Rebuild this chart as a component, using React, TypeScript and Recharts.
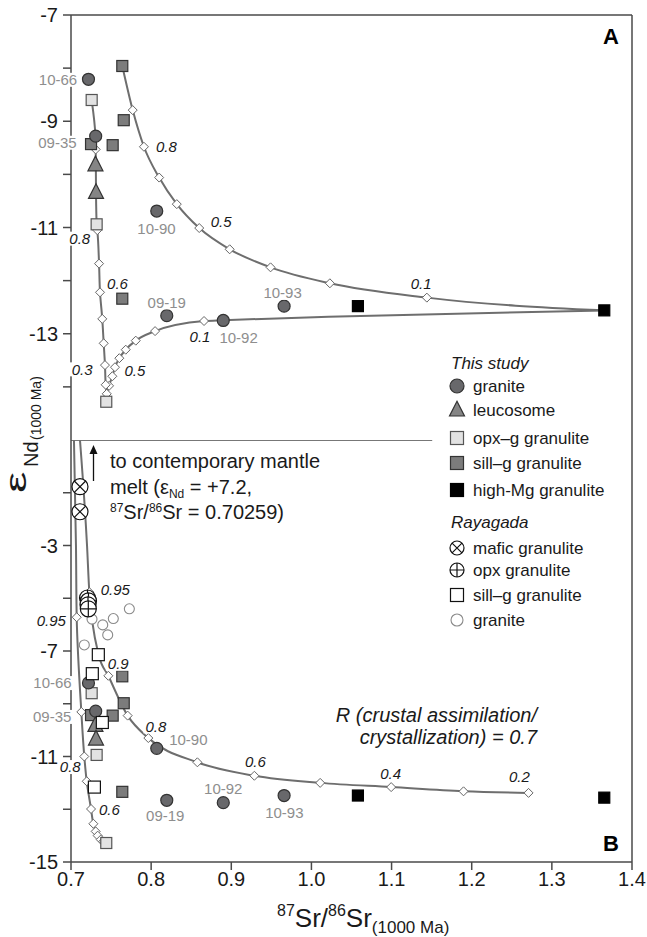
import React from "react";
import {
  ComposedChart,
  XAxis,
  YAxis,
  Line,
  Scatter,
  ReferenceLine,
  ReferenceDot,
} from "recharts";

type Pt = { x: number; y: number };
type Tag = { x: number; y: number; text: string };

// ---------------------------------------------------------------------------
// This study (same samples plotted in both panels)
// ---------------------------------------------------------------------------
const granite: Pt[] = [
  { x: 0.7218, y: -8.21 }, // 10-66
  { x: 0.7308, y: -9.28 }, // 09-35
  { x: 0.807, y: -10.69 }, // 10-90
  { x: 0.8195, y: -12.66 }, // 09-19
  { x: 0.89, y: -12.75 }, // 10-92
  { x: 0.9659, y: -12.48 }, // 10-93
];
const leucosome: Pt[] = [
  { x: 0.7305, y: -9.82 },
  { x: 0.7312, y: -10.34 },
];
const opxG: Pt[] = [
  { x: 0.7258, y: -8.6 },
  { x: 0.732, y: -10.94 },
  { x: 0.744, y: -14.28 },
];
const sillG: Pt[] = [
  { x: 0.764, y: -7.96 },
  { x: 0.7658, y: -8.98 },
  { x: 0.725, y: -9.43 },
  { x: 0.752, y: -9.45 },
  { x: 0.764, y: -12.34 },
];
const highMg: Pt[] = [
  { x: 1.058, y: -12.48 },
  { x: 1.3654, y: -12.56 },
];

// ---------------------------------------------------------------------------
// Rayagada (panel B)
// ---------------------------------------------------------------------------
const maficR: Pt[] = [
  { x: 0.7112, y: -0.77 },
  { x: 0.7112, y: -1.72 },
];
const opxR: Pt[] = [
  { x: 0.7206, y: -4.99 },
  { x: 0.7218, y: -5.1 },
  { x: 0.7212, y: -5.25 },
  { x: 0.7216, y: -5.4 },
];
const sillR: Pt[] = [
  { x: 0.7341, y: -7.14 },
  { x: 0.7266, y: -7.86 },
  { x: 0.7391, y: -9.71 },
  { x: 0.7292, y: -12.16 },
];
const graniteR: Pt[] = [
  { x: 0.7728, y: -5.4 },
  { x: 0.7528, y: -5.77 },
  { x: 0.7396, y: -6.01 },
  { x: 0.7458, y: -6.39 },
  { x: 0.7262, y: -5.79 },
  { x: 0.7166, y: -6.77 },
];

// ---------------------------------------------------------------------------
// Mixing / AFC curves and their step marks
// ---------------------------------------------------------------------------
const curveA1: Pt[] = [
  { x: 0.764, y: -7.96 },
  { x: 0.777, y: -8.79 },
  { x: 0.791, y: -9.48 },
  { x: 0.81, y: -10.06 },
  { x: 0.832, y: -10.56 },
  { x: 0.86, y: -11.01 },
  { x: 0.898, y: -11.41 },
  { x: 0.949, y: -11.75 },
  { x: 1.023, y: -12.05 },
  { x: 1.144, y: -12.32 },
  { x: 1.3654, y: -12.56 },
];
const stepsA1: Pt[] = curveA1.slice(1, -1);

const curveA2: Pt[] = [
  { x: 0.7446, y: -14.13 },
  { x: 0.7475, y: -13.98 },
  { x: 0.7516, y: -13.8 },
  { x: 0.7549, y: -13.63 },
  { x: 0.7603, y: -13.46 },
  { x: 0.7683, y: -13.3 },
  { x: 0.7808, y: -13.13 },
  { x: 0.8049, y: -12.95 },
  { x: 0.866, y: -12.76 },
  { x: 0.89, y: -12.745 },
  { x: 1.0213, y: -12.68 },
  { x: 1.3654, y: -12.56 },
];
const stepsA2: Pt[] = curveA2.slice(0, 9);

const curveA3: Pt[] = [
  { x: 0.7258, y: -8.6 },
  { x: 0.7305, y: -9.28 },
  { x: 0.7308, y: -9.53 },
  { x: 0.731, y: -9.82 },
  { x: 0.7312, y: -10.34 },
  { x: 0.732, y: -10.94 },
  { x: 0.7328, y: -11.05 },
  { x: 0.735, y: -11.68 },
  { x: 0.7362, y: -12.22 },
  { x: 0.739, y: -12.72 },
  { x: 0.7408, y: -13.18 },
  { x: 0.7424, y: -13.59 },
  { x: 0.7433, y: -13.96 },
  { x: 0.7446, y: -14.13 },
];
const stepsA3: Pt[] = [
  { x: 0.7308, y: -9.53 },
  { x: 0.7328, y: -11.05 },
  { x: 0.735, y: -11.68 },
  { x: 0.7362, y: -12.22 },
  { x: 0.739, y: -12.72 },
  { x: 0.7408, y: -13.18 },
  { x: 0.7424, y: -13.59 },
  { x: 0.7433, y: -13.96 },
];

const curveB1: Pt[] = [
  { x: 0.7037, y: 1 },
  { x: 0.7062, y: -3 },
  { x: 0.7071, y: -5.72 },
  { x: 0.7129, y: -9.31 },
  { x: 0.7166, y: -11.0 },
  { x: 0.7196, y: -11.94 },
  { x: 0.725, y: -12.99 },
  { x: 0.7279, y: -13.55 },
  { x: 0.7308, y: -13.84 },
  { x: 0.7333, y: -14.0 },
  { x: 0.7371, y: -14.15 },
  { x: 0.7403, y: -14.22 },
  { x: 0.7446, y: -14.26 },
];
const stepsB1: Pt[] = curveB1.slice(2, -1);

const curveB2: Pt[] = [
  { x: 0.7112, y: 1 },
  { x: 0.72, y: -3 },
  { x: 0.7229, y: -4.77 },
  { x: 0.7345, y: -7.14 },
  { x: 0.7466, y: -7.94 },
  { x: 0.7707, y: -9.45 },
  { x: 0.7965, y: -10.3 },
  { x: 0.8577, y: -11.22 },
  { x: 0.9288, y: -11.73 },
  { x: 1.0109, y: -12.0 },
  { x: 1.0995, y: -12.16 },
  { x: 1.1898, y: -12.32 },
  { x: 1.2709, y: -12.38 },
];
const stepsB2: Pt[] = [curveB2[2], ...curveB2.slice(4)];

// ---------------------------------------------------------------------------
// Text tags (sample numbers and melt fractions)
// ---------------------------------------------------------------------------
const idsA: Tag[] = [
  { x: 0.6838, y: -8.22, text: "10-66" },
  { x: 0.6831, y: -9.405, text: "09-35" },
  { x: 0.8067, y: -11.03, text: "10-90" },
  { x: 0.8195, y: -12.41, text: "09-19" },
  { x: 0.9091, y: -13.07, text: "10-92" },
  { x: 0.964, y: -12.23, text: "10-93" },
];
const fracA: Tag[] = [
  { x: 0.819, y: -9.48, text: "0.8" },
  { x: 0.8873, y: -10.89, text: "0.5" },
  { x: 1.137, y: -12.05, text: "0.1" },
  { x: 0.7109, y: -11.21, text: "0.8" },
  { x: 0.758, y: -12.05, text: "0.6" },
  { x: 0.714, y: -13.67, text: "0.3" },
  { x: 0.7797, y: -13.69, text: "0.5" },
  { x: 0.861, y: -13.06, text: "0.1" },
];
const idsB: Tag[] = [
  { x: 0.6769, y: -8.216, text: "10-66" },
  { x: 0.6765, y: -9.5, text: "09-35" },
  { x: 0.8464, y: -10.36, text: "10-90" },
  { x: 0.8176, y: -13.24, text: "09-19" },
  { x: 0.89, y: -12.22, text: "10-92" },
  { x: 0.9662, y: -13.12, text: "10-93" },
];
const fracB: Tag[] = [
  { x: 0.7553, y: -4.655, text: "0.95" },
  { x: 0.6754, y: -5.845, text: "0.95" },
  { x: 0.759, y: -7.485, text: "0.9" },
  { x: 0.8059, y: -9.86, text: "0.8" },
  { x: 0.93, y: -11.19, text: "0.6" },
  { x: 1.0989, y: -11.63, text: "0.4" },
  { x: 1.2595, y: -11.75, text: "0.2" },
  { x: 0.6991, y: -11.4, text: "0.8" },
  { x: 0.748, y: -13.02, text: "0.6" },
];

const xTicks = [0.7, 0.8, 0.9, 1.0, 1.1, 1.2, 1.3, 1.4];
const yTicksA = [-14, -13, -12, -11, -10, -9, -8, -7];
const yLabelsA = [-13, -11, -9, -7];
const yTicksB = [-15, -13, -11, -9, -7, -5, -3, -1];
const yLabelsB = [-15, -11, -7, -3];

// ---------------------------------------------------------------------------
// Styling
// ---------------------------------------------------------------------------
const FONT = '"Liberation Sans", Arial, Helvetica, sans-serif';
const INK = "#1a1a1a";
const AXIS = "#4a4a4a";
const CURVE = "#6e6e6e";
const ID_GRAY = "#8e8e8e";

const GRANITE_FILL = "#68686b";
const TRI_FILL = "#858585";
const SILL_FILL = "#7c7c7c";
const OPX_FILL = "#e2e2e2";

// ---------------------------------------------------------------------------
// Marker shapes
// ---------------------------------------------------------------------------
const disc = (r: number, fill: string, stroke: string, sw = 1.2) => (p: any) => (
  <circle cx={p.cx} cy={p.cy} r={r} fill={fill} stroke={stroke} strokeWidth={sw} />
);
const box = (s: number, fill: string, stroke: string) => (p: any) => (
  <rect x={p.cx - s / 2} y={p.cy - s / 2} width={s} height={s} fill={fill} stroke={stroke} strokeWidth={1.2} />
);
const tri = (s: number, fill: string, stroke: string) => (p: any) => (
  <path
    d={`M${p.cx},${p.cy - s * 0.58}L${p.cx + s / 2},${p.cy + s * 0.4}L${p.cx - s / 2},${p.cy + s * 0.4}Z`}
    fill={fill}
    stroke={stroke}
    strokeWidth={1.2}
  />
);
const diamond = (p: any) => (
  <path
    d={`M${p.cx},${p.cy - 4.5}L${p.cx + 4.5},${p.cy}L${p.cx},${p.cy + 4.5}L${p.cx - 4.5},${p.cy}Z`}
    fill="#fff"
    stroke="#666"
    strokeWidth={1}
  />
);
const crossed = (r: number, kind: "x" | "+") => (p: any) => {
  const d = kind === "x" ? r * 0.7071 : r;
  const path =
    kind === "x"
      ? `M${p.cx - d},${p.cy - d}L${p.cx + d},${p.cy + d}M${p.cx + d},${p.cy - d}L${p.cx - d},${p.cy + d}`
      : `M${p.cx - d},${p.cy}L${p.cx + d},${p.cy}M${p.cx},${p.cy - d}L${p.cx},${p.cy + d}`;
  return (
    <g>
      <circle cx={p.cx} cy={p.cy} r={r} fill="#fff" stroke="#111" strokeWidth={1.2} />
      <path d={path} stroke="#111" strokeWidth={1.2} />
    </g>
  );
};

const graniteShape = disc(6, GRANITE_FILL, "#333");
const leucoShape = tri(15, TRI_FILL, "#333");
const opxShape = box(11, OPX_FILL, "#555");
const sillShape = box(11, SILL_FILL, "#333");
const highMgShape = box(11, "#000", "#000");
const maficShape = crossed(8, "x");
const opxRShape = crossed(8, "+");
const sillRShape = box(12, "#fff", "#111");
const graniteRShape = disc(5, "#fff", "#8a8a8a", 1.1);

// rough Arial advance widths, used for the white box behind a tag
function textWidth(s: string): number {
  let w = 0;
  for (const c of s) w += c === "." ? 0.278 : c === "-" ? 0.333 : 0.556;
  return w;
}

const tagShape = (t: Tag, italic: boolean) => (p: any) => {
  const fs = 15;
  const w = textWidth(t.text) * fs;
  return (
    <g>
      <rect x={p.cx - w / 2 - 2} y={p.cy - 7} width={w + 4} height={14} fill="#fff" />
      <text
        x={p.cx}
        y={p.cy}
        dy="0.36em"
        textAnchor="middle"
        fontSize={fs}
        fontStyle={italic ? "italic" : "normal"}
        fill={italic ? INK : ID_GRAY}
        fontFamily={FONT}
      >
        {t.text}
      </text>
    </g>
  );
};

const yTick = (labels: number[]) => (p: any) => {
  const v = p.payload.value;
  if (!labels.includes(v)) return <g />;
  return (
    <text x={p.x} y={p.y} dy="0.36em" textAnchor="end" fontSize={20} fill={INK} fontFamily={FONT}>
      {v}
    </text>
  );
};

const xTick = (p: any) => (
  <text x={p.x} y={p.y} dy="0.71em" textAnchor="middle" fontSize={20} fill={INK} fontFamily={FONT}>
    {Number(p.payload.value).toFixed(1)}
  </text>
);

function curve(key: string, data: Pt[], type: "monotoneX" | "monotoneY") {
  return (
    <Line
      key={key}
      data={data}
      dataKey="y"
      type={type}
      stroke={CURVE}
      strokeWidth={2}
      dot={false}
      activeDot={false}
      isAnimationActive={false}
    />
  );
}

function tags(prefix: string, list: Tag[], italic: boolean) {
  return list.map((t, i) => (
    <ReferenceDot
      key={prefix + i}
      x={t.x}
      y={t.y}
      r={0}
      ifOverflow="visible"
      zIndex={2500}
      shape={tagShape(t, italic)}
    />
  ));
}

function sampleLayers(prefix: string) {
  return [
    <Scatter key={prefix + "s"} data={sillG} shape={sillShape} isAnimationActive={false} />,
    <Scatter key={prefix + "o"} data={opxG} shape={opxShape} isAnimationActive={false} />,
    <Scatter key={prefix + "h"} data={highMg} shape={highMgShape} isAnimationActive={false} />,
    <Scatter key={prefix + "l"} data={leucosome} shape={leucoShape} isAnimationActive={false} />,
    <Scatter key={prefix + "g"} data={granite} shape={graniteShape} isAnimationActive={false} />,
  ];
}

// ---------------------------------------------------------------------------
// Legend, titles and notes drawn on top of the two panels
// ---------------------------------------------------------------------------
function Overlay() {
  const mx = 457;
  const tx = 473;
  const legendRows: Array<[number, (p: any) => React.ReactElement, string]> = [
    [386, disc(7, GRANITE_FILL, "#333"), "granite"],
    [410, tri(15, TRI_FILL, "#333"), "leucosome"],
    [438, box(13, OPX_FILL, "#555"), "opx\u2013g granulite"],
    [463, box(13, SILL_FILL, "#333"), "sill\u2013g granulite"],
    [490, box(13, "#000", "#000"), "high-Mg granulite"],
    [548, crossed(7, "x"), "mafic granulite"],
    [570, crossed(7, "+"), "opx granulite"],
    [595, box(13, "#fff", "#111"), "sill\u2013g granulite"],
    [620, disc(6, "#fff", "#8a8a8a", 1.1), "granite"],
  ];
  return (
    <svg
      width={647}
      height={937}
      style={{ position: "absolute", left: 0, top: 0, pointerEvents: "none" }}
      fontFamily={FONT}
    >
      {/* panel letters */}
      <text x={611} y={44} textAnchor="middle" fontSize={22} fontWeight="bold" fill="#000">
        A
      </text>
      <text x={611} y={851} textAnchor="middle" fontSize={22} fontWeight="bold" fill="#000">
        B
      </text>

      {/* legend */}
      <text x={451} y={369} fontSize={17} fontStyle="italic" fill={INK}>
        This study
      </text>
      <text x={451} y={528} fontSize={17} fontStyle="italic" fill={INK}>
        Rayagada
      </text>
      {legendRows.map(([y, shape, label], i) => (
        <g key={i}>
          {shape({ cx: mx, cy: y })}
          <text x={tx} y={y + 6} fontSize={17} fill={INK}>
            {label}
          </text>
        </g>
      ))}

      {/* mantle melt note */}
      <path d="M93.5,481 L93.5,452" stroke="#111" strokeWidth={1.3} />
      <path d="M89.5,454 L93.5,445 L97.5,454 Z" fill="#111" />
      <text x={110} y={468} fontSize={20} fill={INK}>
        to contemporary mantle
      </text>
      <text x={110} y={494} fontSize={20} fill={INK}>
        melt (ε
        <tspan fontSize={12} dy={4}>
          Nd
        </tspan>
        <tspan dy={-4}> = +7.2,</tspan>
      </text>
      <text x={110} y={519} fontSize={20} fill={INK}>
        <tspan fontSize={12} dy={-7}>
          87
        </tspan>
        <tspan dy={7}>Sr/</tspan>
        <tspan fontSize={12} dy={-7}>
          86
        </tspan>
        <tspan dy={7}>Sr = 0.70259)</tspan>
      </text>

      {/* R note */}
      <text x={537} y={722} textAnchor="end" fontSize={20} fontStyle="italic" fill={INK}>
        R (crustal assimilation/
      </text>
      <text x={537} y={744} textAnchor="end" fontSize={20} fontStyle="italic" fill={INK}>
        crystallization) = 0.7
      </text>

      {/* x-axis title */}
      <text x={277} y={927} fill={INK}>
        <tspan fontSize={16} dy={-11}>
          87
        </tspan>
        <tspan fontSize={26} dy={11}>
          Sr/
        </tspan>
        <tspan fontSize={16} dy={-11}>
          86
        </tspan>
        <tspan fontSize={26} dy={11}>
          Sr
        </tspan>
        <tspan fontSize={17} dy={6}>
          (1000 Ma)
        </tspan>
      </text>

      {/* y-axis title */}
      <text transform="translate(26,493) rotate(-90) scale(1.6,1)" fontSize={30} fill={INK}>
        ε
      </text>
      <text transform="translate(38,467) rotate(-90)" fontSize={20} fill={INK}>
        Nd
      </text>
      <text transform="translate(41,440) rotate(-90)" fontSize={14} fill={INK}>
        (1000 Ma)
      </text>
    </svg>
  );
}

// ---------------------------------------------------------------------------
// Component
// ---------------------------------------------------------------------------
export default function App() {
  const axisLine = { stroke: AXIS, strokeWidth: 1.5 };
  const tickLine = { stroke: AXIS, strokeWidth: 1.5 };

  return (
    <div style={{ position: "relative", width: 647, height: 937, background: "#fff" }}>
      <style>{"body{margin:0;background:#fff}"}</style>

      {/* Panel A: mixing */}
      <div style={{ position: "absolute", left: 0, top: 0 }}>
        <ComposedChart width={647} height={440} margin={{ top: 15, right: 15, bottom: 0, left: 0 }}>
          <XAxis dataKey="x" type="number" domain={[0.7, 1.4]} hide />
          <YAxis
            dataKey="y"
            type="number"
            domain={[-15, -7]}
            ticks={yTicksA}
            interval={0}
            width={71}
            tickSize={8}
            tickMargin={5}
            axisLine={axisLine}
            tickLine={tickLine}
            tick={yTick(yLabelsA)}
          />
          <ReferenceLine y={-7} stroke={AXIS} strokeWidth={1.5} />
          <ReferenceLine x={1.4} stroke={AXIS} strokeWidth={1.5} />
          {curve("a1", curveA1, "monotoneX")}
          {curve("a2", curveA2, "monotoneX")}
          {curve("a3", curveA3, "monotoneY")}
          <Scatter data={[...stepsA1, ...stepsA2, ...stepsA3]} shape={diamond} isAnimationActive={false} />
          {sampleLayers("a")}
          {tags("ia", idsA, false)}
          {tags("fa", fracA, true)}
        </ComposedChart>
      </div>

      {/* Panel B: AFC */}
      <div style={{ position: "absolute", left: 0, top: 440 }}>
        <ComposedChart width={647} height={497} margin={{ top: 0, right: 15, bottom: 0, left: 0 }}>
          <XAxis
            dataKey="x"
            type="number"
            domain={[0.7, 1.4]}
            ticks={xTicks}
            interval={0}
            height={75}
            tickSize={8}
            tickMargin={2}
            axisLine={axisLine}
            tickLine={tickLine}
            tick={xTick}
          />
          <YAxis
            dataKey="y"
            type="number"
            domain={[-15, 1]}
            ticks={yTicksB}
            interval={0}
            width={71}
            tickSize={8}
            tickMargin={5}
            axisLine={axisLine}
            tickLine={tickLine}
            tick={yTick(yLabelsB)}
          />
          <ReferenceLine
            segment={[
              { x: 0.7, y: 1 },
              { x: 1.1507, y: 1 },
            ]}
            stroke={AXIS}
            strokeWidth={1.5}
          />
          <ReferenceLine x={1.4} stroke={AXIS} strokeWidth={1.5} />
          {curve("b1", curveB1, "monotoneY")}
          {curve("b2", curveB2, "monotoneX")}
          <Scatter data={[...stepsB1, ...stepsB2]} shape={diamond} isAnimationActive={false} />
          {sampleLayers("b")}
          <Scatter data={graniteR} shape={graniteRShape} isAnimationActive={false} />
          <Scatter data={sillR} shape={sillRShape} isAnimationActive={false} />
          <Scatter data={maficR} shape={maficShape} isAnimationActive={false} />
          <Scatter data={opxR} shape={opxRShape} isAnimationActive={false} />
          {tags("ib", idsB, false)}
          {tags("fb", fracB, true)}
        </ComposedChart>
      </div>

      <Overlay />
    </div>
  );
}
